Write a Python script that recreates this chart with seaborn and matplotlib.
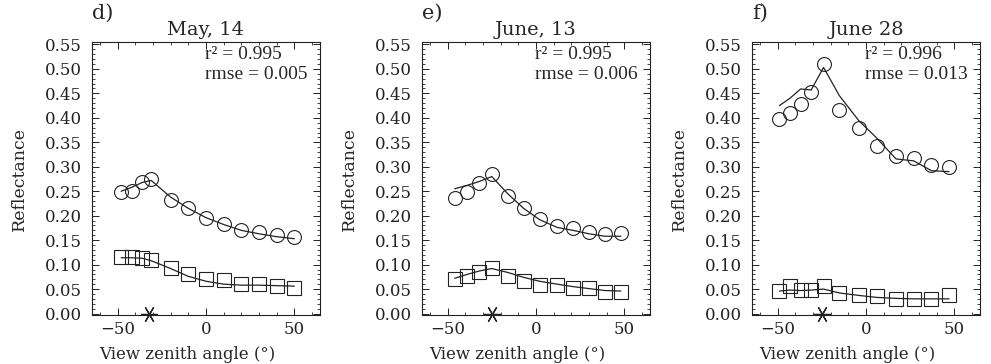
import numpy as np
import matplotlib
matplotlib.use("Agg")
import matplotlib.pyplot as plt
from matplotlib.ticker import MultipleLocator
import seaborn as sns

# --- data (view zenith angle in degrees, reflectance) ---
panel_tags = ["d)", "e)", "f)"]
dates = ["May, 14", "June, 13", "June 28"]
r2_values = ["0.995", "0.995", "0.996"]
rmse_values = ["0.005", "0.006", "0.013"]
hotspot_vza = [-32, -25, -25]

vza_d = [-48, -42, -36, -31, -20, -10, 0, 10, 20, 30, 40, 50]
nir_obs_d = [0.248, 0.250, 0.268, 0.275, 0.233, 0.215, 0.195, 0.183, 0.171, 0.167, 0.160, 0.156]
nir_fit_d = [0.250, 0.258, 0.268, 0.272, 0.238, 0.215, 0.196, 0.182, 0.170, 0.163, 0.157, 0.153]
red_obs_d = [0.115, 0.115, 0.113, 0.109, 0.094, 0.081, 0.071, 0.068, 0.060, 0.060, 0.056, 0.053]
red_fit_d = [0.114, 0.114, 0.113, 0.108, 0.092, 0.076, 0.066, 0.060, 0.058, 0.058, 0.057, 0.056]

vza_e = [-46, -39, -32, -25, -16, -7, 2, 12, 21, 30, 39, 48]
nir_obs_e = [0.236, 0.248, 0.267, 0.285, 0.240, 0.215, 0.193, 0.178, 0.175, 0.167, 0.163, 0.165]
nir_fit_e = [0.255, 0.262, 0.270, 0.280, 0.245, 0.215, 0.192, 0.176, 0.170, 0.163, 0.158, 0.158]
red_obs_e = [0.071, 0.076, 0.085, 0.093, 0.076, 0.066, 0.059, 0.059, 0.052, 0.052, 0.045, 0.045]
red_fit_e = [0.072, 0.080, 0.087, 0.092, 0.084, 0.074, 0.066, 0.060, 0.055, 0.051, 0.047, 0.046]

vza_f = [-49, -43, -37, -31, -24, -15, -4, 6, 17, 27, 37, 47]
nir_obs_f = [0.398, 0.410, 0.429, 0.452, 0.510, 0.417, 0.379, 0.343, 0.322, 0.318, 0.303, 0.300]
nir_fit_f = [0.425, 0.440, 0.459, 0.457, 0.503, 0.445, 0.394, 0.359, 0.316, 0.312, 0.292, 0.290]
red_obs_f = [0.046, 0.056, 0.048, 0.049, 0.056, 0.043, 0.037, 0.035, 0.030, 0.030, 0.030, 0.037]
red_fit_f = [0.046, 0.048, 0.047, 0.048, 0.050, 0.042, 0.037, 0.033, 0.031, 0.030, 0.030, 0.030]

panels = [
    (vza_d, nir_obs_d, nir_fit_d, red_obs_d, red_fit_d),
    (vza_e, nir_obs_e, nir_fit_e, red_obs_e, red_fit_e),
    (vza_f, nir_obs_f, nir_fit_f, red_obs_f, red_fit_f),
]

sns.set_style("ticks")
plt.rcParams["font.family"] = ["DejaVu Serif"]
plt.rcParams.update({
    "xtick.direction": "in", "ytick.direction": "in",
    "xtick.top": True, "ytick.right": True,
    "xtick.major.size": 5, "ytick.major.size": 5,
    "xtick.minor.size": 2.5, "ytick.minor.size": 2.5,
    "xtick.major.width": 0.7, "ytick.major.width": 0.7,
    "xtick.minor.width": 0.6, "ytick.minor.width": 0.6,
    "axes.linewidth": 0.8,
    "axes.edgecolor": "#222222",
})

fig = plt.figure(figsize=(9.91, 3.64), dpi=100)
lefts = [0.0928, 0.4258, 0.7588]
ink = "#222222"

for i, (vza, nir_obs, nir_fit, red_obs, red_fit) in enumerate(panels):
    ax = fig.add_axes([lefts[i], 0.1346, 0.2301, 0.75])

    sns.lineplot(x=vza, y=nir_fit, ax=ax, color=ink, linewidth=0.9, sort=False)
    sns.lineplot(x=vza, y=red_fit, ax=ax, color=ink, linewidth=0.9, sort=False)
    sns.lineplot(x=vza, y=nir_obs, ax=ax, linestyle="", marker="o", markersize=10,
                 markerfacecolor="none", markeredgecolor=ink, markeredgewidth=0.8, sort=False)
    sns.lineplot(x=vza, y=red_obs, ax=ax, linestyle="", marker="s", markersize=9.5,
                 markerfacecolor="none", markeredgecolor=ink, markeredgewidth=0.8, sort=False)
    ax.plot([hotspot_vza[i]], [0.0], linestyle="", marker=(6, 2, 90), markersize=12,
            markeredgewidth=0.9, color=ink, clip_on=False, zorder=5)

    ax.set_xlim(-64.5, 64.5)
    ax.set_ylim(-0.003, 0.555)
    ax.xaxis.set_major_locator(MultipleLocator(50))
    ax.xaxis.set_minor_locator(MultipleLocator(10))
    ax.yaxis.set_major_locator(MultipleLocator(0.05))
    ax.yaxis.set_minor_locator(MultipleLocator(0.01))
    ax.yaxis.set_major_formatter(matplotlib.ticker.FormatStrFormatter("%.2f"))
    ax.tick_params(axis="y", which="major", labelsize=12, pad=7, colors=ink)
    ax.tick_params(axis="x", which="major", labelsize=12, pad=4, colors=ink)
    for side in ["top", "right", "left", "bottom"]:
        ax.spines[side].set_visible(True)

    ax.set_ylabel("Reflectance", fontsize=12.5)
    ax.yaxis.set_label_coords(-0.28, 0.5)
    ax.set_xlabel("View zenith angle (°)", fontsize=12)
    ax.xaxis.set_label_coords(0.42, -0.112)

    ax.set_title(dates[i], fontsize=14, pad=5)
    ax.text(0.0, 1.07, panel_tags[i], transform=ax.transAxes, fontsize=15,
            ha="left", va="bottom")

    ax.text(0.495, 0.955, f"r² = {r2_values[i]}", transform=ax.transAxes,
            fontsize=14, family=["Liberation Serif"], ha="left", va="center")
    ax.text(0.495, 0.88, f"rmse = {rmse_values[i]}", transform=ax.transAxes,
            fontsize=14, family=["Liberation Serif"], ha="left", va="center")

fig.savefig("out.png", dpi=100)
